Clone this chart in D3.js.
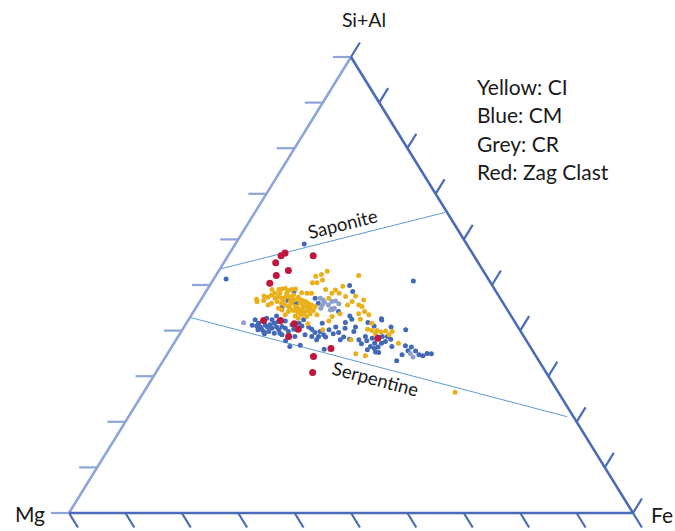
<!DOCTYPE html>
<html>
<head>
<meta charset="utf-8">
<script src="https://cdn.jsdelivr.net/npm/d3@7/dist/d3.min.js"></script>
<style>
body { margin: 0; background: #fff; }
text { font-family: Lato, "Open Sans", sans-serif; fill: #1a1a1a; }
</style>
</head>
<body>
<script>
// compositions as [Si+Al %, Fe %], Mg is what is left
var yellowCI = [
  [53.0,19.3],[52.1,25.3],[49.0,21.0],[48.2,22.5],[48.2,23.8],[49.7,23.7],[47.1,22.5],[47.6,27.0],
  [46.4,27.0],[45.6,26.6],[45.6,28.6],[45.3,29.3],[43.7,26.2],[43.1,25.1],[42.1,25.0],[43.7,29.5],
  [43.5,31.4],[42.5,30.4],[40.3,32.8],[40.0,33.7],[40.0,34.6],[39.7,35.5],[39.9,36.2],[39.3,34.7],
  [37.2,39.8],[38.0,31.0],[34.9,33.4],[34.5,35.3],
  [51.9,17.8],[52.3,18.6],[51.1,19.4],[50.5,18.7],[50.5,17.9],
  [46.9,9.8],[46.3,10.2],[47.6,10.8],[47.3,11.6],[49.0,11.5],[48.2,12.4],[49.0,12.7],[49.1,13.2],
  [49.3,13.7],[48.8,14.5],[49.0,15.0],[49.1,15.6],[47.5,13.4],[47.1,14.2],[47.3,14.7],[47.5,15.2],
  [47.1,16.0],[46.7,16.7],[47.3,17.0],[46.7,17.9],[46.4,18.7],[46.0,19.4],[46.0,14.7],[45.6,15.5],
  [45.3,16.3],[46.0,16.5],[45.3,17.5],[44.9,18.2],[44.5,19.0],[44.2,19.8],[44.5,20.2],[44.9,14.7],
  [44.5,15.5],[44.2,16.8],[44.4,17.6],[43.8,18.7],[43.5,19.5],[48.2,18.1],[45.6,20.2],[45.3,21.0],
  [43.5,22.2],[43.1,20.6],[43.2,18.5],[46.4,13.7],[46.0,12.9],[45.6,12.5],[40.2,24.9],[41.5,21.6],
  [48.2,18.9],[46.4,16.0],[46.0,18.0],[45.3,18.9],[44.5,18.1],[48.3,17.1],
  [48.2,13.3],[48.2,14.5],[47.8,15.9],[46.6,14.7],[46.6,17.7],[45.9,18.6],[45.3,19.5],[44.9,20.3],
  [44.9,16.7],[44.2,18.9],[43.8,19.7],[43.7,20.9],[44.4,21.1],[47.1,13.0],[47.8,12.0],[46.6,11.2],
  [43.5,16.6],[42.7,19.3],[48.9,22.8],[47.5,25.3],[46.7,28.9],[44.2,30.3],[41.6,32.9],[39.1,37.2],
  [39.8,37.4],
  [26.5,55.2]
];
var blueCM = [
  [51.3,2.2],[59.0,12.2],[50.9,35.6],
  [49.9,24.8],[48.6,26.0],[44.7,24.3],[44.2,25.7],[43.2,28.2],[42.5,28.9],[41.8,28.1],[42.6,34.1],
  [42.3,34.3],[41.8,32.1],[41.0,33.6],[40.8,36.7],[40.2,39.6],[40.8,30.4],[39.8,30.6],[40.2,26.0],
  [39.3,27.2],[39.6,28.0],[38.6,26.2],[38.6,29.4],[38.0,29.1],[38.1,30.7],[38.7,33.2],[38.7,36.2],
  [38.7,37.1],[38.1,38.0],[37.6,37.3],[37.2,36.8],[37.2,35.6],[37.8,33.9],[36.5,35.2],[36.1,36.1],
  [36.4,36.6],[35.8,35.0],[35.2,37.3],[35.3,36.7],[33.4,41.4],[36.7,41.3],[36.4,42.5],[35.6,42.3],
  [35.5,43.7],[34.5,45.5],[35.0,46.0],[34.9,46.8],[37.1,33.3],[40.8,26.9],
  [48.6,15.6],[46.0,17.3],[46.6,15.5],[45.1,15.2],[47.1,20.1],[46.0,21.2],
  [42.4,11.8],[41.6,12.8],[40.8,13.5],[40.2,13.4],[40.3,14.0],[41.2,14.2],[40.8,14.8],[41.3,15.0],
  [40.5,15.7],[41.6,15.6],[40.8,16.4],[40.2,17.1],[40.9,17.3],[40.5,18.1],[39.8,19.0],[41.3,18.9],
  [40.3,19.7],[40.2,20.4],[42.1,17.3],[42.0,16.1],[42.4,14.8],[42.7,13.7],[39.8,15.5],[39.3,15.0],
  [39.4,16.7],[39.1,18.2],[37.8,19.5],[36.5,20.9],[36.8,22.6],[40.3,22.9],[39.6,23.8],[39.8,24.6],
  [39.1,25.6],[38.7,24.9],[38.7,23.7],[40.8,22.1],[35.9,27.3],[41.6,24.1],[41.2,11.9],[42.1,13.4],
  [41.6,20.0],[42.4,20.4],[43.2,15.2],
  [41.0,12.8],[39.8,14.6],[39.4,17.7],[41.0,20.8],[39.1,22.3],[38.0,24.9],[38.7,20.7],
  [38.0,32.4],[38.3,34.6],[36.5,39.0],[34.7,41.7],[34.7,44.7],[40.5,28.7]
];
var greyCR = [
  [41.7,10.1],[47.1,21.0],[46.7,21.7],[45.6,22.1],[44.9,22.2],[46.2,22.2],[46.4,23.4],[46.5,24.0],
  [45.6,23.2],[44.9,24.6],[45.9,24.9],[44.5,24.1],[35.0,43.0],[34.2,43.9]
];
var redZag = [
  [56.4,9.4],[57.0,9.8],[54.9,9.2],[56.4,15.1],[52.1,10.7],[53.2,12.3],[50.4,10.4],[42.2,13.4],
  [42.2,16.4],[41.5,19.2],[40.3,20.5],[38.7,19.6],[34.3,26.2],[30.8,27.8],[36.1,28.4],[38.3,35.6]
];

// reference lines, same [Si+Al %, Fe %]
var saponite = [[53.5, 0], [65.9, 33.7]];
var serpentine = [[42.9, 0], [21.1, 77.8]];

var tickValues = [0, 10, 20, 30, 40, 50, 60, 70, 80, 90, 100];
var cornerNames = ["Mg", "Fe", "Si+Al"];
var legendLabels = ["Yellow: CI", "Blue: CM", "Grey: CR", "Red: Zag Clast"];

var w = 675, h = 531;
var tickLen = 17;
var svg = d3.select("body").append("svg").attr("width", w).attr("height", h);

// x runs along the Mg-Fe base, y up to the Si+Al apex
var x = d3.scaleLinear().domain([0, 100]).range([69, 633]);
var y = d3.scaleLinear().domain([0, 100]).range([513, 57]);

function px(d) { return x(d[1] + d[0] / 2); }
function py(d) { return y(d[0]); }

var mgPt = [px([0, 0]), py([0, 0])];
var fePt = [px([0, 100]), py([0, 100])];
var topPt = [px([100, 0]), py([100, 0])];

function unit(a, b) {
  var dx = b[0] - a[0], dy = b[1] - a[1];
  var l = Math.sqrt(dx * dx + dy * dy);
  return [dx / l, dy / l];
}
var downRight = unit(topPt, fePt);
var upRight = unit(mgPt, topPt);

var edgeDark = "#4a6cb8", edgeLight = "#8ea4da";

// mineral lines first, under the points
function mineralLine(data) {
  svg.append("line")
    .attr("x1", px(data[0])).attr("y1", py(data[0]))
    .attr("x2", px(data[1])).attr("y2", py(data[1]))
    .attr("stroke", "#5b9bd5").attr("stroke-width", 1);
}
mineralLine(saponite);
mineralLine(serpentine);

function lineLabel(data, label, t, off) {
  var x1 = px(data[0]), y1 = py(data[0]), x2 = px(data[1]), y2 = py(data[1]);
  var ang = Math.atan2(y2 - y1, x2 - x1);
  var cx = x1 + (x2 - x1) * t, cy = y1 + (y2 - y1) * t;
  cx += -Math.sin(ang) * off;
  cy += Math.cos(ang) * off;
  svg.append("text")
    .attr("transform", "translate(" + cx + "," + cy + ") rotate(" + (ang * 180 / Math.PI) + ")")
    .attr("text-anchor", "middle")
    .style("font-size", "18.5px")
    .text(label);
}
lineLabel(saponite, "Saponite", 0.56, -7);
lineLabel(serpentine, "Serpentine", 0.5, 19);

// ticks on each edge
var ticks = svg.append("g").attr("stroke-width", 2.2).attr("fill", "none");
tickValues.forEach(function(v) {
  // base: Fe going from Mg to Fe
  var b = [px([0, v]), py([0, v])];
  ticks.append("line").attr("x1", b[0]).attr("y1", b[1])
    .attr("x2", b[0] + downRight[0] * tickLen).attr("y2", b[1] + downRight[1] * tickLen)
    .attr("stroke", edgeDark);
  // left: Si+Al with no Fe
  var l = [px([v, 0]), py([v, 0])];
  ticks.append("line").attr("x1", l[0]).attr("y1", l[1])
    .attr("x2", l[0] - tickLen - 1).attr("y2", l[1])
    .attr("stroke", edgeLight);
  // right: no Mg
  var r = [px([v, 100 - v]), py([v, 100 - v])];
  ticks.append("line").attr("x1", r[0]).attr("y1", r[1])
    .attr("x2", r[0] + upRight[0] * tickLen).attr("y2", r[1] + upRight[1] * tickLen)
    .attr("stroke", edgeDark);
});

// triangle edges
svg.append("line").attr("x1", mgPt[0]).attr("y1", mgPt[1]).attr("x2", topPt[0]).attr("y2", topPt[1])
  .attr("stroke", edgeLight).attr("stroke-width", 2.6);
svg.append("line").attr("x1", topPt[0]).attr("y1", topPt[1]).attr("x2", fePt[0]).attr("y2", fePt[1])
  .attr("stroke", edgeDark).attr("stroke-width", 2.6);
svg.append("line").attr("x1", mgPt[0]).attr("y1", mgPt[1]).attr("x2", fePt[0]).attr("y2", fePt[1])
  .attr("stroke", edgeDark).attr("stroke-width", 2.6);

// points
function drawPoints(data, color, r) {
  svg.append("g").selectAll("circle")
    .data(data)
    .enter()
    .append("circle")
    .attr("cx", px)
    .attr("cy", py)
    .attr("r", r)
    .attr("fill", color);
}
drawPoints(blueCM, "#4169b8", 2.5);
drawPoints(yellowCI, "#e9b01c", 2.5);
drawPoints(greyCR, "#8e9fca", 2.5);
drawPoints(redZag, "#c0173f", 3.5);

// corner names
svg.append("text").attr("x", mgPt[0] - 24).attr("y", mgPt[1] + 9)
  .attr("text-anchor", "end").style("font-size", "21px").text(cornerNames[0]);
svg.append("text").attr("x", fePt[0] + 18).attr("y", fePt[1] + 10)
  .style("font-size", "21px").text(cornerNames[1]);
svg.append("text").attr("x", topPt[0] + 13).attr("y", 27)
  .attr("text-anchor", "middle").style("font-size", "19.5px").text(cornerNames[2]);

// legend
svg.append("g").selectAll("text")
  .data(legendLabels)
  .enter()
  .append("text")
  .attr("x", 477)
  .attr("y", function(d, i) { return 95 + i * 28.4; })
  .style("font-size", "21px")
  .text(function(d) { return d; });
</script>
</body>
</html>
